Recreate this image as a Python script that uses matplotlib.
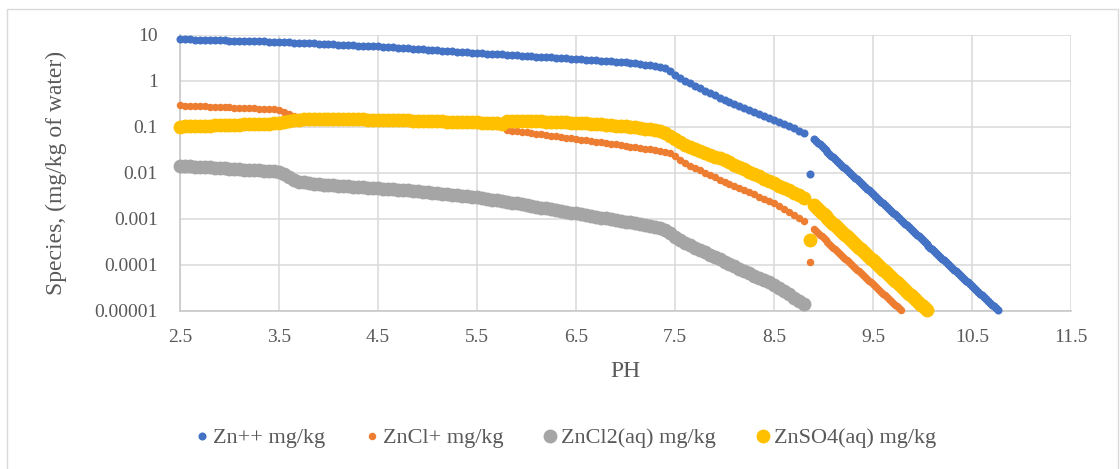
import numpy as np
import matplotlib
matplotlib.use('Agg')
import matplotlib.pyplot as plt
from matplotlib.patches import Rectangle

# pH grid (0.05 steps up to 8.8, one odd point, then the dense steep part)
ph_flat = [2.50, 2.55, 2.60, 2.65, 2.70, 2.75, 2.80, 2.85, 2.90, 2.95,
           3.00, 3.05, 3.10, 3.15, 3.20, 3.25, 3.30, 3.35, 3.40, 3.45,
           3.50, 3.55, 3.60, 3.65, 3.70, 3.75, 3.80, 3.85, 3.90, 3.95,
           4.00, 4.05, 4.10, 4.15, 4.20, 4.25, 4.30, 4.35, 4.40, 4.45,
           4.50, 4.55, 4.60, 4.65, 4.70, 4.75, 4.80, 4.85, 4.90, 4.95,
           5.00, 5.05, 5.10, 5.15, 5.20, 5.25, 5.30, 5.35, 5.40, 5.45,
           5.50, 5.55, 5.60, 5.65, 5.70, 5.75, 5.80, 5.85, 5.90, 5.95,
           6.00, 6.05, 6.10, 6.15, 6.20, 6.25, 6.30, 6.35, 6.40, 6.45,
           6.50, 6.55, 6.60, 6.65, 6.70, 6.75, 6.80, 6.85, 6.90, 6.95,
           7.00, 7.05, 7.10, 7.15, 7.20, 7.25, 7.30, 7.35, 7.40, 7.45,
           7.50, 7.55, 7.60, 7.65, 7.70, 7.75, 7.80, 7.85, 7.90, 7.95,
           8.00, 8.05, 8.10, 8.15, 8.20, 8.25, 8.30, 8.35, 8.40, 8.45,
           8.50, 8.55, 8.60, 8.65, 8.70, 8.75, 8.80]
ph_odd = [8.86]
ph_steep = [8.90, 8.92, 8.94, 8.96, 8.98, 9.00, 9.02, 9.04, 9.06, 9.08,
            9.10, 9.12, 9.14, 9.16, 9.18, 9.20, 9.22, 9.24, 9.26, 9.28,
            9.30, 9.32, 9.34, 9.36, 9.38, 9.40, 9.42, 9.44, 9.46, 9.48,
            9.50, 9.52, 9.54, 9.56, 9.58, 9.60, 9.62, 9.64, 9.66, 9.68,
            9.70, 9.72, 9.74, 9.76, 9.78, 9.80, 9.82, 9.84, 9.86, 9.88,
            9.90, 9.92, 9.94, 9.96, 9.98, 10.00, 10.02, 10.04, 10.06, 10.08,
            10.10, 10.12, 10.14, 10.16, 10.18, 10.20, 10.22, 10.24, 10.26, 10.28,
            10.30, 10.32, 10.34, 10.36, 10.38, 10.40, 10.42, 10.44, 10.46, 10.48,
            10.50, 10.52, 10.54, 10.56, 10.58, 10.60, 10.62, 10.64, 10.66, 10.68,
            10.70, 10.72, 10.74, 10.76]

# log10 of concentration (mg/kg of water)
zn_flat = [.910, .907, .904, .901, .898, .895, .892, .889, .886, .883,
           .880, .877, .874, .871, .868, .865, .862, .859, .856, .853,
           .850, .845, .840, .835, .830, .825, .820, .815, .810, .805,
           .800, .795, .790, .785, .780, .775, .770, .765, .760, .755,
           .750, .743, .736, .729, .722, .715, .708, .701, .694, .687,
           .680, .673, .666, .659, .652, .645, .638, .631, .624, .617,
           .610, .604, .597, .591, .584, .578, .571, .565, .558, .552,
           .545, .539, .532, .526, .519, .513, .506, .500, .493, .487,
           .480, .473, .466, .459, .452, .445, .437, .429, .421, .412,
           .403, .393, .382, .370, .357, .343, .327, .305, .275, .225,
           .130, .070, .010, -.045, -.100, -.155, -.210, -.260, -.310, -.360,
           -.410, -.455, -.500, -.545, -.590, -.630, -.672, -.715, -.760, -.805,
           -.850, -.895, -.940, -.985, -1.030, -1.080, -1.130]
zn_odd = [-2.02]
zn_steep = [-1.26, -1.30, -1.34, -1.38, -1.42, -1.46, -1.50, -1.54, -1.58, -1.62,
            -1.66, -1.70, -1.74, -1.78, -1.82, -1.86, -1.90, -1.94, -1.98, -2.02,
            -2.06, -2.10, -2.14, -2.18, -2.22, -2.26, -2.30, -2.34, -2.38, -2.42,
            -2.46, -2.50, -2.54, -2.58, -2.62, -2.66, -2.70, -2.74, -2.78, -2.82,
            -2.86, -2.90, -2.94, -2.98, -3.02, -3.06, -3.10, -3.14, -3.18, -3.22,
            -3.26, -3.30, -3.34, -3.38, -3.42, -3.46, -3.50, -3.54, -3.58, -3.62,
            -3.66, -3.70, -3.74, -3.78, -3.82, -3.86, -3.90, -3.94, -3.98, -4.02,
            -4.06, -4.10, -4.14, -4.18, -4.22, -4.26, -4.30, -4.34, -4.38, -4.42,
            -4.46, -4.50, -4.54, -4.58, -4.62, -4.66, -4.70, -4.74, -4.78, -4.82,
            -4.86, -4.90, -4.94, -4.98]

zncl_flat = [-.530, -.535, -.539, -.544, -.548, -.553, -.557, -.562, -.566, -.571,
             -.575, -.580, -.584, -.589, -.593, -.598, -.602, -.607, -.611, -.616,
             -.620, -.665, -.720, -.760, -.780, -.788, -.793, -.797, -.800, -.803,
             -.806, -.810, -.815, -.819, -.824, -.828, -.833, -.837, -.841, -.846,
             -.850, -.855, -.860, -.865, -.870, -.875, -.880, -.885, -.890, -.895,
             -.900, -.905, -.910, -.915, -.920, -.925, -.930, -.935, -.940, -.945,
             -.950, -.956, -.962, -.968, -.974, -.980, -1.075, -1.085, -1.095, -1.105,
             -1.115, -1.130, -1.144, -1.159, -1.173, -1.188, -1.202, -1.217, -1.231, -1.246,
             -1.260, -1.275, -1.290, -1.305, -1.320, -1.335, -1.350, -1.365, -1.380, -1.395,
             -1.410, -1.425, -1.440, -1.455, -1.470, -1.485, -1.500, -1.515, -1.535, -1.575,
             -1.640, -1.710, -1.780, -1.845, -1.895, -1.945, -1.995, -2.045, -2.095, -2.143,
             -2.190, -2.236, -2.282, -2.328, -2.374, -2.420, -2.466, -2.512, -2.558, -2.604,
             -2.650, -2.715, -2.780, -2.845, -2.910, -2.975, -3.040]
zncl_odd = [-3.93]
zncl_steep = [-3.22, -3.26, -3.30, -3.34, -3.38, -3.42, -3.46, -3.50, -3.54, -3.58,
              -3.62, -3.66, -3.70, -3.74, -3.78, -3.82, -3.86, -3.90, -3.94, -3.98,
              -4.02, -4.06, -4.10, -4.14, -4.18, -4.22, -4.26, -4.30, -4.34, -4.38,
              -4.42, -4.46, -4.50, -4.54, -4.58, -4.62, -4.66, -4.70, -4.74, -4.78,
              -4.82, -4.86, -4.90, -4.94, -4.98]

zncl2_flat = [-1.840, -1.847, -1.853, -1.860, -1.866, -1.873, -1.879, -1.886, -1.892, -1.899,
              -1.905, -1.912, -1.918, -1.925, -1.931, -1.938, -1.944, -1.951, -1.957, -1.964,
              -1.970, -2.020, -2.095, -2.150, -2.185, -2.205, -2.220, -2.232, -2.243, -2.253,
              -2.262, -2.269, -2.276, -2.283, -2.290, -2.297, -2.304, -2.311, -2.318, -2.325,
              -2.332, -2.340, -2.348, -2.356, -2.364, -2.372, -2.380, -2.389, -2.398, -2.407,
              -2.416, -2.426, -2.436, -2.446, -2.457, -2.468, -2.480, -2.492, -2.505, -2.518,
              -2.532, -2.547, -2.562, -2.578, -2.594, -2.611, -2.628, -2.645, -2.662, -2.680,
              -2.698, -2.716, -2.734, -2.752, -2.770, -2.788, -2.806, -2.824, -2.842, -2.860,
              -2.878, -2.896, -2.914, -2.932, -2.950, -2.968, -2.986, -3.004, -3.022, -3.040,
              -3.058, -3.076, -3.095, -3.114, -3.134, -3.155, -3.177, -3.205, -3.245, -3.310,
              -3.390, -3.455, -3.515, -3.570, -3.622, -3.673, -3.724, -3.775, -3.826, -3.877,
              -3.928, -3.979, -4.030, -4.080, -4.130, -4.180, -4.230, -4.280, -4.330, -4.380,
              -4.430, -4.500, -4.570, -4.640, -4.710, -4.780, -4.850]

znso4_flat = [-.990, -.987, -.983, -.980, -.976, -.973, -.969, -.966, -.962, -.959,
              -.955, -.952, -.948, -.945, -.941, -.938, -.934, -.931, -.927, -.924,
              -.920, -.895, -.865, -.848, -.840, -.836, -.833, -.831, -.830, -.829,
              -.829, -.829, -.830, -.831, -.832, -.833, -.835, -.836, -.838, -.839,
              -.840, -.843, -.846, -.849, -.852, -.855, -.858, -.861, -.864, -.867,
              -.870, -.873, -.876, -.879, -.882, -.885, -.888, -.891, -.894, -.897,
              -.900, -.906, -.912, -.918, -.924, -.930, -.860, -.862, -.864, -.866,
              -.868, -.872, -.876, -.880, -.884, -.888, -.892, -.896, -.900, -.905,
              -.910, -.917, -.924, -.931, -.938, -.945, -.953, -.961, -.969, -.978,
              -.987, -.997, -1.008, -1.020, -1.033, -1.047, -1.063, -1.085, -1.120, -1.190,
              -1.270, -1.330, -1.385, -1.435, -1.478, -1.520, -1.562, -1.603, -1.643, -1.682,
              -1.720, -1.770, -1.820, -1.870, -1.920, -1.970, -2.020, -2.070, -2.120, -2.170,
              -2.220, -2.273, -2.326, -2.380, -2.433, -2.487, -2.540]
znso4_odd = [-3.46]
znso4_steep = [-2.70, -2.74, -2.78, -2.82, -2.86, -2.90, -2.94, -2.98, -3.02, -3.06,
               -3.10, -3.14, -3.18, -3.22, -3.26, -3.30, -3.34, -3.38, -3.42, -3.46,
               -3.50, -3.54, -3.58, -3.62, -3.66, -3.70, -3.74, -3.78, -3.82, -3.86,
               -3.90, -3.94, -3.98, -4.02, -4.06, -4.10, -4.14, -4.18, -4.22, -4.26,
               -4.30, -4.34, -4.38, -4.42, -4.46, -4.50, -4.54, -4.58, -4.62, -4.66,
               -4.70, -4.74, -4.78, -4.82, -4.86, -4.90, -4.94, -4.98]

x_ticks = [2.5, 3.5, 4.5, 5.5, 6.5, 7.5, 8.5, 9.5, 10.5, 11.5]
y_ticks = [1e-5, 1e-4, 1e-3, 1e-2, 1e-1, 1, 10]
y_labels = ['0.00001', '0.0001', '0.001', '0.01', '0.1', '1', '10']

ph_all = ph_flat + ph_odd + ph_steep
series = [
    ('Zn++ mg/kg', zn_flat + zn_odd + zn_steep, '#4472C4', 5.8),
    ('ZnCl+ mg/kg', zncl_flat + zncl_odd + zncl_steep, '#ED7D31', 5.4),
    ('ZnCl2(aq) mg/kg', zncl2_flat, '#A5A5A5', 10.0),
    ('ZnSO4(aq) mg/kg', znso4_flat + znso4_odd + znso4_steep, '#FFC000', 10.0),
]

plt.rcParams['font.family'] = ['Liberation Serif', 'DejaVu Serif']
txt = '#595959'

fig = plt.figure(figsize=(11.2, 4.69), dpi=100)
ax = fig.add_axes([0.1607, 0.3369, 0.7956, 0.5885])

for name, vals, col, ms in series:
    ax.plot(ph_all[:len(vals)], 10 ** np.array(vals), 'o', ls='none', color=col,
            ms=ms, mew=0, label=name, clip_on=False, zorder=3)

ax.set_yscale('log')
ax.set_xlim(2.5, 11.5)
ax.set_ylim(1e-5, 10)
ax.set_xticks(x_ticks)
ax.set_xticklabels([f'{t:g}' for t in x_ticks])
ax.set_yticks(y_ticks)
ax.set_yticklabels(y_labels)
ax.yaxis.set_minor_locator(matplotlib.ticker.NullLocator())
ax.tick_params(axis='y', length=0, pad=16, labelsize=14, labelcolor=txt)
ax.tick_params(axis='x', length=0, pad=13, labelsize=14, labelcolor=txt)
ax.grid(True, color='#D9D9D9', lw=1.1, zorder=0)
ax.set_axisbelow(True)
for s in ['top', 'right']:
    ax.spines[s].set_visible(False)
for s in ['left', 'bottom']:
    ax.spines[s].set_color('#C8C8C8')
    ax.spines[s].set_linewidth(1.2)

ax.set_ylabel('Species, (mg/kg of water)', fontsize=17, color=txt)
ax.yaxis.set_label_coords(-0.127, 0.5)
ax.set_xlabel('PH', fontsize=17, color=txt)
ax.xaxis.set_label_coords(0.5, -0.18)

fig.legend(loc='center', bbox_to_anchor=(0.505, 0.066), ncol=4, frameon=False,
           fontsize=16, labelcolor=txt, handlelength=0.6, handletextpad=0.2,
           columnspacing=1.8, borderaxespad=0)

fig.patches.append(Rectangle((0.00625, -0.01), 0.992, 0.991, transform=fig.transFigure,
                             fill=False, edgecolor='#D9D9D9', lw=1))

fig.savefig('out.png', dpi=100)
